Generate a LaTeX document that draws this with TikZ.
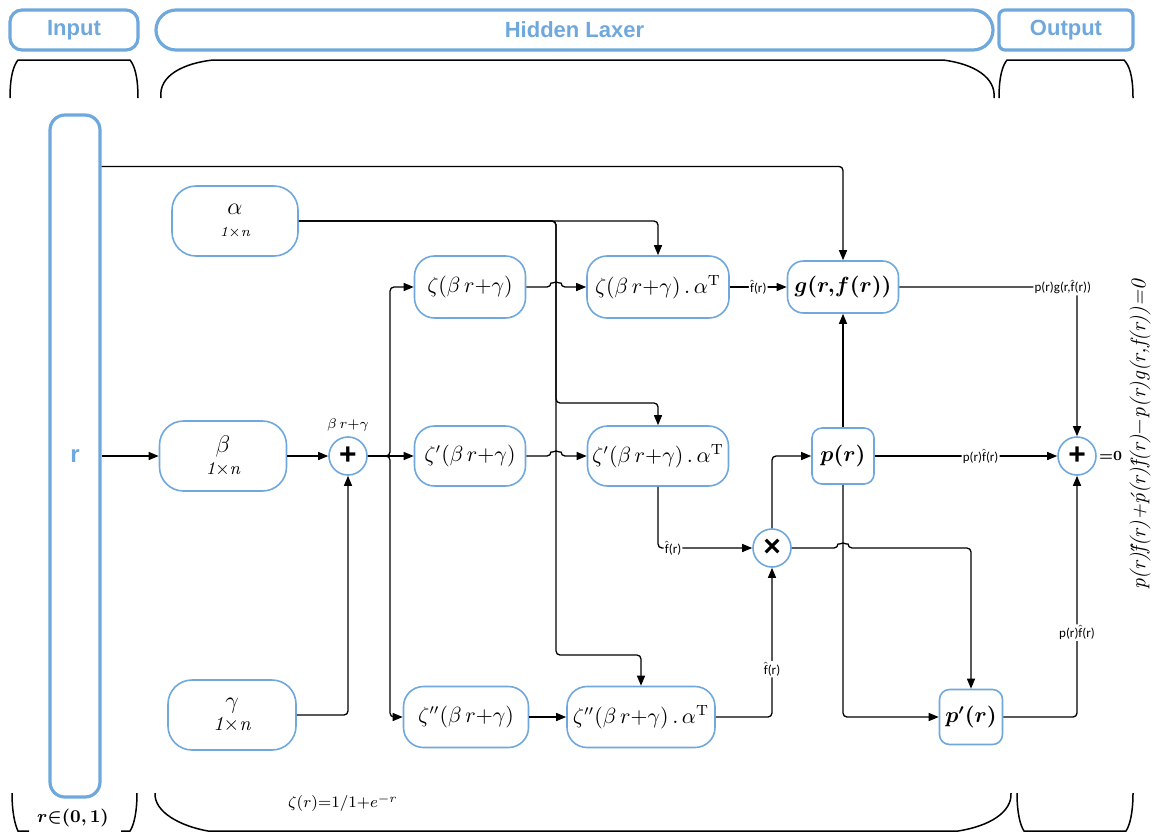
\documentclass[tikz,border=0pt]{standalone}
\usepackage{fontspec}
\usepackage{amsmath,bm}
\usetikzlibrary{arrows.meta,calc}
\newfontfamily\lblfont{Carlito}
\newfontfamily\hdrfont{Liberation Sans}
\definecolor{figblue}{RGB}{111,168,220}
\newcommand{\fhat}{\ensuremath{\hat{\mbox{f}}}}

\begin{document}
\begin{tikzpicture}[
  x=0.5pt,
  y=-0.5pt,
  >={Triangle[length=5pt,width=4pt]},
  header/.style={draw=figblue,line width=1.6pt,text=figblue,inner sep=0pt,
    minimum height=20pt,font=\hdrfont\bfseries\fontsize{11}{13}\selectfont},
  block/.style={draw=figblue,line width=0.8pt,fill=white,align=center,
    inner sep=1pt,rounded corners=#1},
  block/.default=10pt,
  sumnode/.style={circle,draw=figblue,line width=0.8pt,fill=white,
    minimum size=19pt,inner sep=0pt,font=\hdrfont\bfseries\fontsize{15}{15}\selectfont},
  wire/.style={line width=0.65pt,->,rounded corners=2pt},
  bracestroke/.style={line width=0.75pt},
  lbl/.style={font=\lblfont\fontsize{6.5}{7}\selectfont,fill=white,inner sep=0.6pt},
  every node/.style={font=\fontsize{10.5}{12}\selectfont}
]
\useasboundingbox (0,0) rectangle (1161,832);

% Column headers and their brackets.
\node[header,minimum width=64pt,rounded corners=6pt] (hin) at (74,30) {Input};
\node[header,minimum width=418.5pt,rounded corners=10pt] (hhid) at (574.5,30) {Hidden Laxer};
\node[header,minimum width=67pt,rounded corners=3pt] (hout) at (1066,30) {Output};

\draw[bracestroke] (10,98) .. controls (10,75) and (14,65) .. (18,60) -- (130,60)
  .. controls (134,65) and (138,75) .. (138,98);
\draw[bracestroke] (161,98) .. controls (158,75) and (185,63) .. (213,60) -- (943,60)
  .. controls (975,64) and (996,78) .. (994,98);
\draw[bracestroke] (999,98) .. controls (999,75) and (1003,65) .. (1007,60) -- (1124,60)
  .. controls (1129,65) and (1133,75) .. (1133,98);

\draw[bracestroke] (12,793) .. controls (12,812) and (15,825) .. (18,831) -- (29,831);
\draw[bracestroke] (121,831) -- (130,831) .. controls (134,825) and (137,812) .. (137,793);
\draw[bracestroke] (155,793) .. controls (154,812) and (180,826) .. (208,831) -- (958,831)
  .. controls (990,826) and (1012,812) .. (1011,793);
\draw[bracestroke] (1017,793) .. controls (1017,812) and (1020,825) .. (1024,831) -- (1126,831)
  .. controls (1130,825) and (1133,812) .. (1133,793);

\node[font=\fontsize{9}{10}\selectfont] (rdom) at (73,818) {$\bm{r{\in}(0,1)}$};
\node[font=\fontsize{8}{9}\selectfont] (sigm) at (343,803) {$\zeta(r){=}1/1{+}e^{-r}$};

% Input column.
\node[draw=figblue,line width=1.6pt,rounded corners=7.5pt,minimum width=25pt,
  minimum height=341pt,text=figblue,font=\hdrfont\bfseries\fontsize{12}{14}\selectfont]
  (r) at (75,456) {r};

% Parameter blocks.
\node[block=12pt,minimum width=63pt,minimum height=35pt] (alpha) at (235,221)
  {{\fontsize{12}{13}\selectfont$\alpha$}\\[-1pt]{\fontsize{7}{8}\selectfont\itshape 1$\times$n}};
\node[block=12pt,minimum width=63.5pt,minimum height=35pt] (beta) at (223,456)
  {{\fontsize{12}{13}\selectfont$\beta$}\\[-1pt]{\fontsize{9}{10}\selectfont\itshape 1$\times$n}};
\node[block=12pt,minimum width=64pt,minimum height=35pt] (gamma) at (232,715)
  {{\fontsize{12}{13}\selectfont$\gamma$}\\[-1pt]{\fontsize{10}{11}\selectfont\itshape 1$\times$n}};

\node[sumnode] (sumA) at (348,456) {+};
\node[font=\fontsize{7.5}{9}\selectfont] (sumAlbl) at (348,425) {$\beta\,r{+}\gamma$};

% Activation blocks.
\node[block,minimum width=55.5pt,minimum height=31pt] (zeta1) at (470,287) {$\zeta(\beta\,r{+}\gamma)$};
\node[block,minimum width=71pt,minimum height=31pt] (zeta1a) at (658,287) {$\zeta(\beta\,r{+}\gamma)\,.\,\alpha^{\mathrm{T}}$};
\node[block,minimum width=55.5pt,minimum height=30pt] (zeta2) at (470,456) {$\zeta'(\beta\,r{+}\gamma)$};
\node[block,minimum width=70.5pt,minimum height=30pt] (zeta2a) at (658,456) {$\zeta'(\beta\,r{+}\gamma)\,.\,\alpha^{\mathrm{T}}$};
\node[block,minimum width=62.5pt,minimum height=30.5pt] (zeta3) at (466,717) {$\zeta''(\beta\,r{+}\gamma)$};
\node[block,minimum width=74pt,minimum height=30.5pt] (zeta3a) at (641,717) {$\zeta''(\beta\,r{+}\gamma)\,.\,\alpha^{\mathrm{T}}$};

\node[block=8pt,minimum width=55.5pt,minimum height=26pt] (g) at (843,287) {$\bm{g(r,\!f(r))}$};
\node[block=5pt,minimum width=31pt,minimum height=28pt] (p) at (843,456) {$\bm{p(r)}$};
\node[block=5pt,minimum width=31.5pt,minimum height=27.5pt] (pprime) at (971,717) {$\bm{p'(r)}$};
\node[sumnode] (times) at (772,548) {×};
\node[sumnode] (sumB) at (1077,456) {+};
\node[font=\fontsize{7}{8}\selectfont,anchor=west,inner sep=1pt] (zero) at (sumB.east) {$\bm{{=}0}$};

\node[rotate=90,font=\fontsize{10.5}{12}\selectfont\itshape] (eqn) at (1140,435)
  {p(r)\H{f}(r)+\'{p}(r)\'{f}(r)$-$p(r)g(r,f(r))=0};

% Connectors.
\coordinate (rtap) at ($(r.north east)+(0,53)$);
\coordinate (abus) at (556,221);
\coordinate (abr2) at (556,403);
\coordinate (abr3) at (556,655);
\coordinate (zbus) at (390,456);

\draw[wire] (rtap) -| (g.north);
\draw[wire] (r.east |- beta.west) -- (beta.west);
\draw[wire] (beta) -- (sumA);
\draw[wire] (gamma.east) -| (sumA.south);

\draw[wire] (sumA.east) -- (zbus) |- (zeta1.west);
\draw[wire] (sumA) -- (zeta2);
\draw[wire] (sumA.east) -- (zbus) |- (zeta3.west);

\draw[wire] (alpha.east) -| (zeta1a.north);
\draw[wire] (alpha.east) -- (abus) -- (abr2) -| (zeta2a.north);
\draw[wire] (alpha.east) -- (abus) -- (abr3) -| (zeta3a.north);

\draw[wire] (zeta1.east) -- ($(abus |- zeta1.east)+(-5,0)$)
  arc[start angle=180,end angle=0,radius=2.5pt] -- (zeta1a.west);
\draw[wire] (zeta2.east) -- ($(abus |- zeta2.east)+(-5,0)$)
  arc[start angle=180,end angle=0,radius=2.5pt] -- (zeta2a.west);
\draw[wire] (zeta3) -- (zeta3a);

\draw[wire] (zeta1a) -- node[lbl] {\fhat(r)} (g);
\draw[wire] (zeta2a.south) |- node[lbl,pos=0.58] {\fhat(r)} (times.west);
\draw[wire] (zeta3a.east) -| node[lbl,pos=0.66] {\fhat(r)} (times.south);

\draw[wire] (times.north) |- (p.west);
\draw[wire] (times.east) -- ($(p.south |- times.east)+(-5,0)$)
  arc[start angle=180,end angle=0,radius=2.5pt] -| (pprime.north);
\draw[wire] (p.north) -- (g.south);
\draw[wire] (p.south) |- (pprime.west);

\draw[wire] (g.east) -| node[lbl,pos=0.46] {p(r)g(r,\fhat(r))} (sumB.north);
\draw[wire] (p) -- node[lbl,pos=0.58] {p(r)\fhat(r)} (sumB);
\draw[wire] (pprime.east) -| node[lbl,pos=0.675] {p(r)\fhat(r)} (sumB.south);
\end{tikzpicture}
\end{document}
